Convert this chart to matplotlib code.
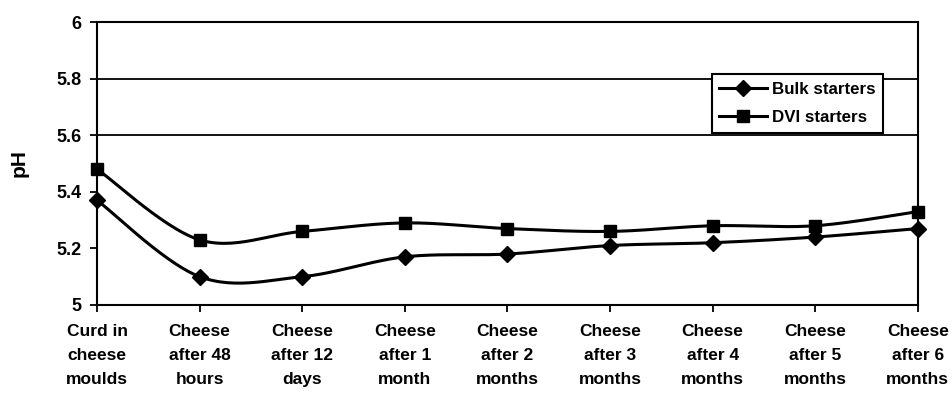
"""pH of cheese during ripening - bulk vs DVI starters"""

import numpy as np
import matplotlib
matplotlib.use("Agg")
import matplotlib.pyplot as plt

stages = ["Curd in\ncheese\nmoulds", "Cheese\nafter 48\nhours", "Cheese\nafter 12\ndays",
          "Cheese\nafter 1\nmonth", "Cheese\nafter 2\nmonths", "Cheese\nafter 3\nmonths",
          "Cheese\nafter 4\nmonths", "Cheese\nafter 5\nmonths", "Cheese\nafter 6\nmonths"]
bulk_ph = [5.37, 5.10, 5.10, 5.17, 5.18, 5.21, 5.22, 5.24, 5.27]
dvi_ph = [5.48, 5.23, 5.26, 5.29, 5.27, 5.26, 5.28, 5.28, 5.33]
y_ticks = [5.0, 5.2, 5.4, 5.6, 5.8, 6.0]
y_labels = ["5", "5.2", "5.4", "5.6", "5.8", "6"]
grid_levels = [5.6, 5.8]


def smooth(x, y, n=30):
    """Excel-style smoothed line (Catmull-Rom via cubic Bezier)."""
    x = np.asarray(x, float)
    y = np.asarray(y, float)
    px, py = [], []
    for i in range(len(x) - 1):
        i0, i3 = max(i - 1, 0), min(i + 2, len(x) - 1)
        c1 = (x[i] + (x[i + 1] - x[i0]) / 6, y[i] + (y[i + 1] - y[i0]) / 6)
        c2 = (x[i + 1] - (x[i3] - x[i]) / 6, y[i + 1] - (y[i3] - y[i]) / 6)
        t = np.linspace(0, 1, n)
        a, b, c, d = (1 - t) ** 3, 3 * t * (1 - t) ** 2, 3 * t ** 2 * (1 - t), t ** 3
        px.extend(a * x[i] + b * c1[0] + c * c2[0] + d * x[i + 1])
        py.extend(a * y[i] + b * c1[1] + c * c2[1] + d * y[i + 1])
    return px, py


plt.rcParams['font.family'] = ['Liberation Sans', 'DejaVu Sans']
plt.rcParams['font.weight'] = 'bold'

fig = plt.figure(figsize=(9.52, 3.94), dpi=100)
ax = fig.add_axes([0.102, 0.226, 0.862, 0.718])

x = np.arange(len(stages))
for vals, marker, ms, label in [(bulk_ph, 'D', 8, "Bulk starters"),
                                (dvi_ph, 's', 8.5, "DVI starters")]:
    sx, sy = smooth(x, vals)
    ax.plot(sx, sy, color='black', lw=2.2, clip_on=False)
    ax.plot(x, vals, linestyle='none', marker=marker, ms=ms, color='black', clip_on=False, zorder=5)
    # legend proxy
    ax.plot([], [], color='black', lw=2.2, marker=marker, ms=ms, label=label)

for g in grid_levels:
    ax.axhline(g, color='black', lw=1.3)

ax.set_xlim(0, len(stages) - 1)
ax.set_ylim(5, 6)
ax.set_xticks(x)
ax.set_xticklabels(stages, fontsize=12.5, fontweight='bold', linespacing=1.72)
ax.set_yticks(y_ticks)
ax.set_yticklabels(y_labels, fontsize=13, fontweight='bold')
ax.tick_params(axis='both', direction='out', length=5, width=1.3, color='black')
ax.tick_params(axis='x', pad=9)
ax.tick_params(axis='y', pad=6)
for s in ax.spines.values():
    s.set_linewidth(1.5)
ax.set_ylabel("pH", fontsize=15, fontweight='bold', labelpad=20)

leg = ax.legend(loc='upper left', bbox_to_anchor=(0.749, 0.816), borderaxespad=0,
                fancybox=False, framealpha=1, edgecolor='black',
                handlelength=2.8, handletextpad=0.3, labelspacing=0.8,
                borderpad=0.45, prop={'weight': 'bold', 'size': 12.2})
leg.get_frame().set_linewidth(1.5)

fig.savefig("out.png", dpi=100)
